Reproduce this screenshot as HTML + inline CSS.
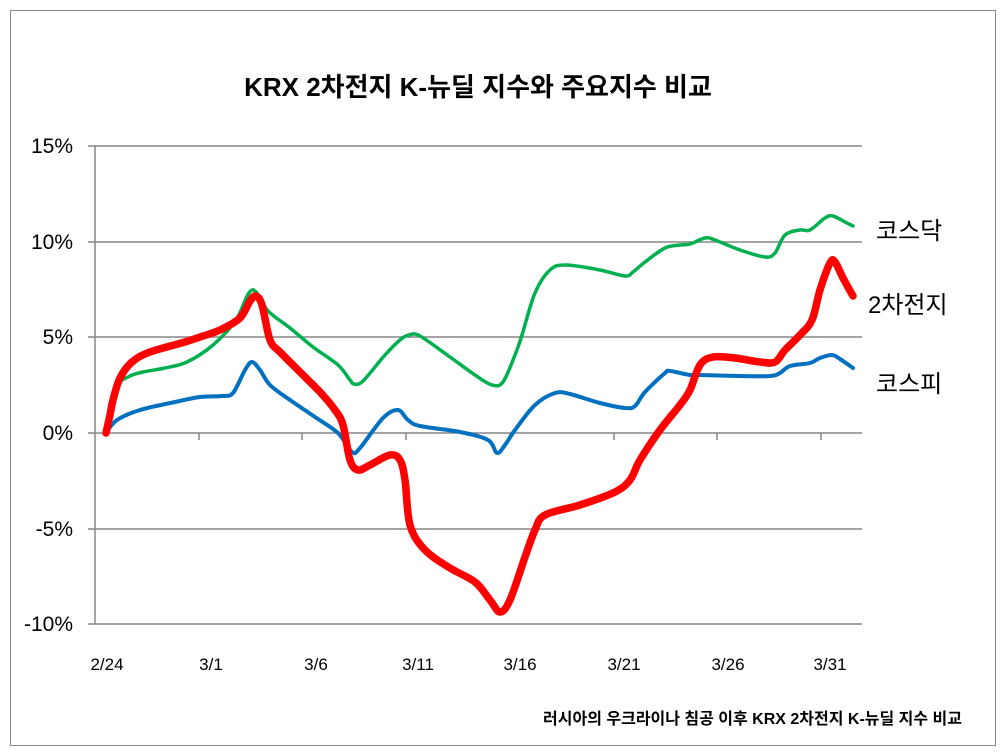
<!DOCTYPE html>
<html><head><meta charset="utf-8"><style>
body{margin:0;background:#fff}
svg{display:block}
text{font-family:"Liberation Sans","Noto Sans CJK KR",sans-serif}
</style></head><body>
<svg id="c" width="1006" height="756" viewBox="0 0 1006 756">
<rect x="10.5" y="10.5" width="985" height="735" fill="#fff" stroke="#888" stroke-width="1"/>
<text x="478" y="96" font-size="26" font-weight="bold" text-anchor="middle" fill="#000">KRX 2차전지 K-뉴딜 지수와 주요지수 비교</text>
<g stroke="#868686" stroke-width="1.5">
<line x1="95" y1="146" x2="862" y2="146"/>
<line x1="95" y1="242" x2="862" y2="242"/>
<line x1="95" y1="337" x2="862" y2="337"/>
<line x1="95" y1="433" x2="862" y2="433"/>
<line x1="95" y1="529" x2="862" y2="529"/>
<line x1="95" y1="624" x2="862" y2="624"/>
<line x1="95" y1="146" x2="95" y2="624"/>
<line x1="88" y1="146" x2="95" y2="146"/><line x1="88" y1="242" x2="95" y2="242"/><line x1="88" y1="337" x2="95" y2="337"/><line x1="88" y1="433" x2="95" y2="433"/><line x1="88" y1="529" x2="95" y2="529"/><line x1="88" y1="624" x2="95" y2="624"/>
<line x1="199" y1="433" x2="199" y2="440"/><line x1="302" y1="433" x2="302" y2="440"/><line x1="406" y1="433" x2="406" y2="440"/><line x1="510" y1="433" x2="510" y2="440"/><line x1="614" y1="433" x2="614" y2="440"/><line x1="717" y1="433" x2="717" y2="440"/><line x1="821" y1="433" x2="821" y2="440"/>
</g>
<g font-size="21" text-anchor="end" fill="#000">
<text x="73" y="153">15%</text><text x="73" y="249">10%</text><text x="73" y="344">5%</text><text x="73" y="440">0%</text><text x="73" y="536">-5%</text><text x="73" y="631">-10%</text>
</g>
<g font-size="17" text-anchor="middle" fill="#000">
<text x="107" y="670">2/24</text><text x="211" y="670">3/1</text><text x="316" y="670">3/6</text><text x="418" y="670">3/11</text><text x="520" y="670">3/16</text><text x="624" y="670">3/21</text><text x="728" y="670">3/26</text><text x="830" y="670">3/31</text>
</g>
<g fill="none" stroke-linejoin="round" stroke-linecap="round">
<polyline stroke="#00B050" stroke-width="3.5" points="106,433 110,405 117,385 130,376 143,372 165,368 187,362 213,345 236,320 252,290 268,311 290,328 313,347 338,365 350,380 354,384 363,381 385,355 400,340 409,335 420,336 450,357 475,375 492,385 503,382 515,355 522,335 535,293 550,270 566,265 600,270 625,276 633,272 645,262 665,248 680,245 690,244 705,238 715,240 740,250 765,257 775,253 785,235 800,230 810,230 825,218 833,216 845,222 853,226"/>
<polyline stroke="#0070C0" stroke-width="4" points="106,433 117,420 140,410 175,402 200,397 222,396 233,393 245,370 252,362 260,370 270,385 290,400 315,417 338,433 352,452 360,448 383,418 398,410 408,420 420,426 460,432 488,440 497,453 505,445 515,430 535,405 555,393 570,394 600,403 625,408 635,406 645,392 665,373 670,371 690,375 700,375 740,376 770,376 780,373 790,366 810,363 820,358 832,355 840,359 853,368"/>
<polyline stroke="#FF0000" stroke-width="7.5" points="106,433 110,415 113,400 120,378 132,362 150,352 185,342 200,337 220,330 240,318 250,301 256,296 262,305 270,340 280,352 300,372 320,392 335,410 343,425 350,460 358,470 370,465 390,455 400,460 405,480 410,525 425,550 450,568 475,582 490,600 500,612 510,600 525,557 535,530 545,515 580,505 615,492 630,480 640,460 660,430 680,405 690,390 700,365 713,357 735,358 760,362 775,362 785,350 800,335 812,320 820,290 830,263 835,262 843,278 853,296"/>
</g>
<g font-size="24" fill="#000">
<text x="876" y="239">코스닥</text>
<text x="868" y="313">2차전지</text>
<text x="876" y="392">코스피</text>
</g>
<text x="962" y="724" font-size="16" font-weight="bold" text-anchor="end" fill="#000">러시아의 우크라이나 침공 이후 KRX 2차전지 K-뉴딜 지수 비교</text>
</svg>
<script>
document.querySelectorAll('polyline').forEach(function(pl){
var p=pl.getAttribute('points').trim().split(/\s+/).map(function(s){return s.split(',').map(Number);});
var d='M'+p[0][0]+','+p[0][1];
for(var i=0;i<p.length-1;i++){
var p0=p[i-1]||p[i],p1=p[i],p2=p[i+1],p3=p[i+2]||p2;
var c1x=p1[0]+(p2[0]-p0[0])/6,c1y=p1[1]+(p2[1]-p0[1])/6;
var c2x=p2[0]-(p3[0]-p1[0])/6,c2y=p2[1]-(p3[1]-p1[1])/6;
d+=' C'+c1x.toFixed(1)+','+c1y.toFixed(1)+' '+c2x.toFixed(1)+','+c2y.toFixed(1)+' '+p2[0]+','+p2[1];}
var path=document.createElementNS('http://www.w3.org/2000/svg','path');
path.setAttribute('d',d);
path.setAttribute('stroke',pl.getAttribute('stroke'));
path.setAttribute('stroke-width',pl.getAttribute('stroke-width'));
pl.parentNode.replaceChild(path,pl);
});
</script>
</body></html>
